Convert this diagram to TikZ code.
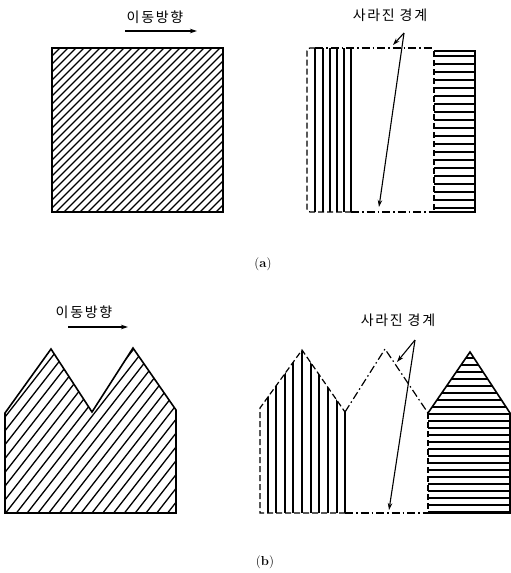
\documentclass[tikz,border=0pt]{standalone}
\usepackage{fontspec}
\newfontfamily\kr[LetterSpace=12]{Noto Sans CJK KR}
\usetikzlibrary{arrows.meta}
\begin{document}
\begin{tikzpicture}[x=1pt,y=-1pt,
  outline/.style={line width=1.6pt},
  thinout/.style={line width=1.3pt},
  hatch/.style={line width=1.3pt},
  dashdot/.style={line width=1.2pt, dash pattern=on 8pt off 3pt on 1.5pt off 3pt},
  dashedge/.style={line width=1.2pt, dash pattern=on 6pt off 3pt},
  arr/.style={line width=1.1pt, -{Stealth[length=7pt,width=4.5pt]}},
  lbl/.style={font=\kr\fontsize{14}{16}\selectfont, inner sep=0pt},
  captxt/.style={font=\fontsize{13}{15}\selectfont, inner sep=0pt}]
\useasboundingbox (0,0) rectangle (511,573);
% ---------- (a) left ----------
\begin{scope}
  \clip (52,48) rectangle (223,212);
  \foreach \k in {0,...,42} \draw[hatch] ({-112+\k*8},212) -- ++(200,-200);
\end{scope}
\draw[outline] (52,48) rectangle (223,212);
\node[lbl] (mv1) at (155,17) {이동방향};
\coordinate (m1s) at (125,31);
\coordinate (m1e) at (197,31);
\draw[arr] (m1s) -- (m1e);
% ---------- (a) right ----------
\foreach \x in {315,323,330,337,344,351} \draw[hatch] (\x,48) -- (\x,212);
\draw[dashedge, rounded corners=3pt] (351,212) -- (307,212) -- (307,48) -- (315,48);
\draw[dashdot] (315,48) -- (434,48);
\draw[dashdot] (351,212) -- (434,212);
\foreach \y in {56,64,...,208} \draw[hatch] (434,\y) -- (475,\y);
\draw[outline] (434,51) -- (475,51) -- (475,212) -- (434,212);
\draw[dashedge] (434,51) -- (434,212);
\node[lbl] (lost1) at (390,15) {사라진 경계};
\coordinate (s1) at (404,33);
\coordinate (t1a) at (393,45);
\coordinate (t1b) at (379,207);
\draw[arr] (s1) -- (t1a);
\draw[arr] (s1) -- (t1b);
\node[captxt] (capa) at (263,264) {(\textbf{a})};
% ---------- (b) left ----------
\begin{scope}
  \clip (5,513) -- (5,413) -- (51,349) -- (92,412) -- (133,348) -- (176,410) -- (176,513) -- cycle;
  \foreach \k in {0,...,29} \draw[hatch] ({-124+\k*10.8},513) -- ++(150,-192);
\end{scope}
\draw[outline] (5,513) -- (5,413) -- (51,349) -- (92,412) -- (133,348) -- (176,410) -- (176,513) -- cycle;
\node[lbl] (mv2) at (84,312) {이동방향};
\coordinate (m2s) at (68,327);
\coordinate (m2e) at (128,327);
\draw[arr] (m2s) -- (m2e);
% ---------- (b) right ----------
\begin{scope}
  \clip (260,513) -- (260,408) -- (302,350) -- (345,412) -- (345,513) -- cycle;
  \foreach \x in {268,276,285,293,302,311,319,328,337} \draw[hatch] (\x,345) -- (\x,513);
\end{scope}
\draw[dashedge] (345,513) -- (260,513) -- (260,408) -- (302,350) -- (345,412);
\draw[thinout] (345,412) -- (345,513);
\draw[dashdot] (345,412) -- (385,349) -- (428,413);
\draw[dashdot] (345,513) -- (428,513);
\begin{scope}
  \clip (428,513) -- (428,413) -- (470,352) -- (510,413) -- (510,513) -- cycle;
  \foreach \y in {358,365,...,512} \draw[hatch] (428,\y) -- (510,\y);
\end{scope}
\draw[outline] (428,413) -- (470,352) -- (510,413) -- (510,513) -- (428,513);
\draw[dashedge] (428,413) -- (428,513);
\node[lbl] (lost2) at (398,320) {사라진 경계};
\coordinate (s2) at (415,340);
\coordinate (t2a) at (397,362);
\coordinate (t2b) at (389,510);
\draw[arr] (s2) -- (t2a);
\draw[arr] (s2) -- (t2b);
\node[captxt] (capb) at (265,562) {(\textbf{b})};
\end{tikzpicture}
\end{document}
